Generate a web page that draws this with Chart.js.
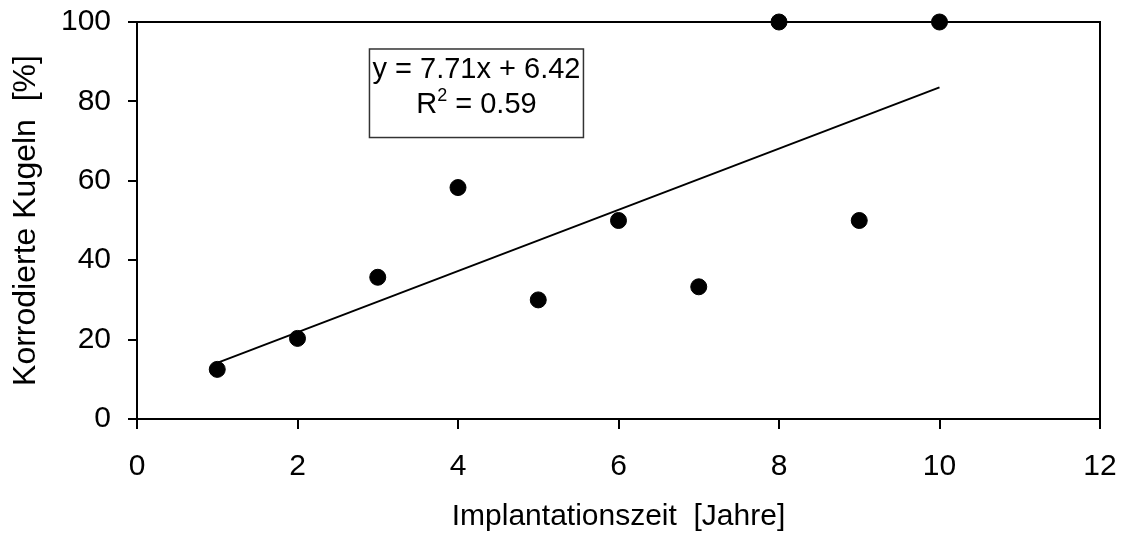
<!DOCTYPE html>
<html>
<head>
<meta charset="utf-8">
<title>Korrodierte Kugeln</title>
<script src="https://cdn.jsdelivr.net/npm/chart.js@4/dist/chart.umd.min.js"></script>
<style>
  html, body { margin: 0; padding: 0; background: #fff; }
  #wrap { width: 1125px; height: 536px; position: relative; }
</style>
</head>
<body>
<div id="wrap"><canvas id="corrosion"></canvas></div>
<script>
// implantation time in years and share of corroded balls in %
const years = [1, 2, 3, 4, 5, 6, 7, 8, 9, 10];
const corroded = [12.5, 20.3, 35.7, 58.3, 30, 50, 33.3, 100, 50, 100];

// linear fit as printed in the box
const slope = 7.71;
const intercept = 6.42;
const rSquared = 0.59;

const xTicks = [0, 2, 4, 6, 8, 10, 12];
const yTicks = [0, 20, 40, 60, 80, 100];

const FONT = "'Liberation Sans', Arial, sans-serif";

Chart.defaults.font.family = FONT;
Chart.defaults.font.size = 30;
Chart.defaults.color = "#000";

const fitStart = Math.min(...years);
const fitEnd = Math.max(...years);
const fitLine = [
  { x: fitStart, y: slope * fitStart + intercept },
  { x: fitEnd, y: slope * fitEnd + intercept },
];

// outer frame around the plot area (top and right sides)
const frame = {
  id: "frame",
  afterDatasetsDraw(chart) {
    const { ctx, chartArea: a } = chart;
    ctx.save();
    ctx.strokeStyle = "#000";
    ctx.lineWidth = 2;
    ctx.beginPath();
    ctx.moveTo(a.left, a.top);
    ctx.lineTo(a.right, a.top);
    ctx.lineTo(a.right, a.bottom);
    ctx.stroke();
    ctx.restore();
  },
};

// regression equation box
const equationBox = {
  id: "equationBox",
  afterDraw(chart) {
    const { ctx, scales } = chart;
    const cx = scales.x.getPixelForValue(4.23);
    const top = scales.y.getPixelForValue(93.2);
    const bottom = scales.y.getPixelForValue(70.9);
    const line1 = "y = " + slope.toFixed(2) + "x + " + intercept.toFixed(2);
    ctx.save();
    ctx.font = "29px " + FONT;
    const w = ctx.measureText(line1).width + 6;
    ctx.fillStyle = "#fff";
    ctx.fillRect(cx - w / 2, top, w, bottom - top);
    ctx.strokeStyle = "#333";
    ctx.lineWidth = 1.5;
    ctx.strokeRect(cx - w / 2, top, w, bottom - top);

    ctx.fillStyle = "#000";
    ctx.textBaseline = "alphabetic";
    ctx.textAlign = "center";
    ctx.fillText(line1, cx, top + 29);

    // second line: R² with raised 2
    const r = "R";
    const rest = " = " + rSquared.toFixed(2);
    ctx.font = "29px " + FONT;
    const wr = ctx.measureText(r).width;
    const wrest = ctx.measureText(rest).width;
    ctx.font = "18px " + FONT;
    const ws = ctx.measureText("2").width;
    let x = cx - (wr + ws + wrest) / 2;
    const base = top + 64;
    ctx.textAlign = "left";
    ctx.font = "29px " + FONT;
    ctx.fillText(r, x, base);
    x += wr;
    ctx.font = "18px " + FONT;
    ctx.fillText("2", x, base - 12);
    x += ws;
    ctx.font = "29px " + FONT;
    ctx.fillText(rest, x, base);
    ctx.restore();
  },
};

new Chart(document.getElementById("corrosion"), {
  type: "scatter",
  data: {
    datasets: [
      {
        label: "Korrodierte Kugeln",
        data: years.map((x, i) => ({ x: x, y: corroded[i] })),
        backgroundColor: "#000",
        borderColor: "#000",
        pointRadius: 8,
        pointHoverRadius: 8,
        clip: false,
        order: 1,
      },
      {
        type: "line",
        label: "Trend",
        data: fitLine,
        borderColor: "#000",
        borderWidth: 2,
        pointRadius: 0,
        fill: false,
        order: 2,
      },
    ],
  },
  plugins: [frame, equationBox],
  options: {
    responsive: true,
    maintainAspectRatio: false,
    animation: false,
    layout: {
      padding: { top: 22, right: 25, left: 0, bottom: 0 },
    },
    plugins: {
      legend: { display: false },
      tooltip: { enabled: false },
    },
    scales: {
      x: {
        type: "linear",
        min: 0,
        max: 12,
        afterBuildTicks(scale) {
          scale.ticks = xTicks.map((v) => ({ value: v }));
        },
        afterFit(scale) {
          scale.height = 117;
          scale.paddingLeft = 0;
          scale.paddingRight = 0;
        },
        border: { color: "#000", width: 2 },
        grid: {
          drawOnChartArea: false,
          drawTicks: true,
          tickLength: 10,
          tickColor: "#000",
          lineWidth: 2,
        },
        ticks: { padding: 20, color: "#000", font: { size: 30 } },
        title: {
          display: true,
          text: "Implantationszeit  [Jahre]",
          color: "#000",
          font: { size: 30 },
          padding: { top: 0, bottom: 1 },
        },
      },
      y: {
        type: "linear",
        min: 0,
        max: 100,
        afterBuildTicks(scale) {
          scale.ticks = yTicks.map((v) => ({ value: v }));
        },
        afterFit(scale) {
          scale.width = 137;
          scale.paddingTop = 0;
          scale.paddingBottom = 0;
        },
        border: { color: "#000", width: 2 },
        grid: {
          drawOnChartArea: false,
          drawTicks: true,
          tickLength: 9,
          tickColor: "#000",
          lineWidth: 2,
        },
        ticks: { padding: 17, color: "#000", font: { size: 30 } },
        title: {
          display: true,
          text: "Korrodierte Kugeln  [%]",
          color: "#000",
          font: { size: 32 },
          padding: { top: 7, bottom: 0 },
        },
      },
    },
  },
});
</script>
</body>
</html>
